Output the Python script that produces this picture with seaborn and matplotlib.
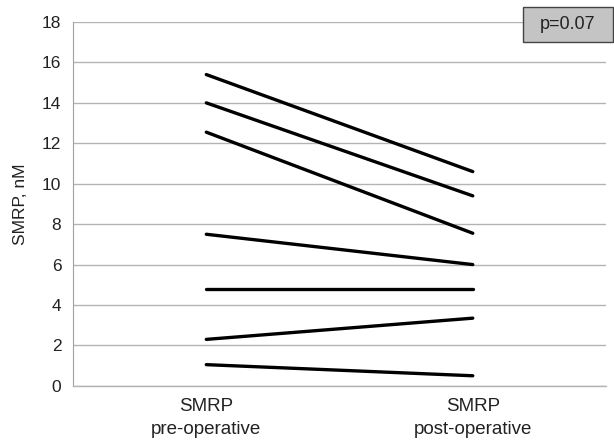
import matplotlib
matplotlib.use('Agg')
import matplotlib.pyplot as plt
import seaborn as sns
import pandas as pd

# values
timepoints = ['SMRP\npre-operative', 'SMRP\npost-operative']
pre_op = [15.4, 14.0, 12.55, 7.5, 4.8, 2.3, 1.05]
post_op = [10.6, 9.4, 7.55, 6.0, 4.8, 3.35, 0.5]
p_text = 'p=0.07'

rows = []
for i, (a, b) in enumerate(zip(pre_op, post_op)):
    rows.append({'patient': i, 'time': timepoints[0], 'smrp': a})
    rows.append({'patient': i, 'time': timepoints[1], 'smrp': b})
df = pd.DataFrame(rows)

sns.set_style('white')
plt.rcParams['font.family'] = ['Liberation Sans', 'DejaVu Sans']

fig = plt.figure(figsize=(6.14, 4.4), dpi=100)
ax = fig.add_axes([0.119, 0.123, 0.868, 0.827])

sns.lineplot(data=df, x='time', y='smrp', units='patient', estimator=None,
             color='black', linewidth=2.4, ax=ax, sort=False)

ax.set_xlim(-0.5, 1.5)
ax.set_ylim(0, 18)
ax.set_yticks(range(0, 19, 2))
ax.yaxis.grid(True, color='#b4b4b4', linewidth=1.0)
ax.set_axisbelow(True)
for side in ['top', 'right']:
    ax.spines[side].set_visible(False)
ax.spines['left'].set_color('#a0a0a0')
ax.spines['bottom'].set_color('#b4b4b4')
ax.spines['bottom'].set_linewidth(1.0)
ax.tick_params(axis='y', length=5, color='#a0a0a0', labelsize=12.5,
               labelcolor='#222222', direction='out', width=1)
ax.tick_params(axis='x', length=0, labelsize=13.5, labelcolor='#222222', pad=9)
for lab in ax.get_xticklabels():
    lab.set_linespacing(1.4)
ax.set_xlabel('')
ax.set_ylabel('SMRP, nM', fontsize=12.5, color='#222222', labelpad=10)

# p-value box in the top right corner
fig.add_artist(plt.Rectangle((0.852, 0.9045), 0.1466, 0.0795,
                             transform=fig.transFigure, facecolor='#c4c4c4',
                             edgecolor='#444444', linewidth=1))
fig.text(0.925, 0.944, p_text, fontsize=13, color='#222222',
         ha='center', va='center')

fig.savefig('out.png', dpi=100)
